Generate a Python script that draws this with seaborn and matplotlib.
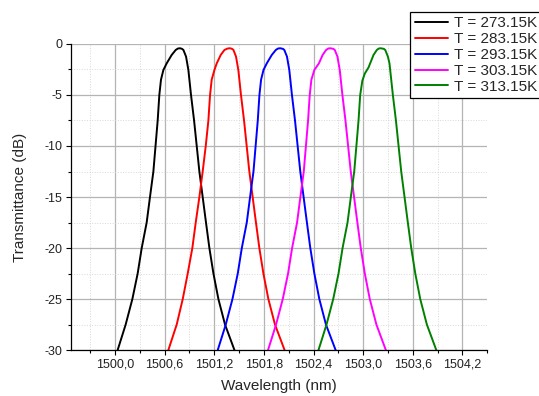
import matplotlib
matplotlib.use("Agg")
import matplotlib.pyplot as plt
from matplotlib.ticker import MultipleLocator, FuncFormatter
import numpy as np
import pandas as pd
import seaborn as sns

# transmission spectra (wavelength in nm, transmittance in dB)
labels = ["T = 273.15K", "T = 283.15K", "T = 293.15K", "T = 303.15K", "T = 313.15K"]
colors = ["black", "red", "blue", "magenta", "green"]

db_profile = [-30, -27.5, -25, -22.5, -20, -17.5, -15, -12.5, -10, -7.5, -5, -3.5, -2.55, -1.9,
              -1.08, -0.59, -0.45, -0.42, -0.48, -0.59, -1.24, -2.55, -5, -7.5, -10, -12.5,
              -15, -17.5, -20, -22.5, -25, -27.5, -30]

wl_273 = [1500.032, 1500.129, 1500.210, 1500.274, 1500.323, 1500.383, 1500.423, 1500.464,
          1500.490, 1500.516, 1500.536, 1500.556, 1500.585, 1500.625, 1500.685, 1500.734,
          1500.760, 1500.786, 1500.810, 1500.827, 1500.859, 1500.887, 1500.919, 1500.956,
          1500.988, 1501.020, 1501.060, 1501.100, 1501.141, 1501.190, 1501.250, 1501.330,
          1501.444]
db_273 = db_profile

wl_283 = [1500.645, 1500.746, 1500.819, 1500.879, 1500.935, 1500.976, 1501.020, 1501.060,
          1501.097, 1501.129, 1501.149, 1501.169, 1501.202, 1501.230, 1501.278, 1501.323,
          1501.360, 1501.390, 1501.415, 1501.432, 1501.463, 1501.491, 1501.523, 1501.560,
          1501.592, 1501.624, 1501.664, 1501.704, 1501.745, 1501.794, 1501.854, 1501.934,
          1502.050]
db_283 = db_profile

wl_293 = [1501.242, 1501.339, 1501.420, 1501.484, 1501.533, 1501.593, 1501.633, 1501.674,
          1501.700, 1501.726, 1501.746, 1501.766, 1501.795, 1501.835, 1501.895, 1501.944,
          1501.970, 1501.996, 1502.030, 1502.047, 1502.079, 1502.107, 1502.139, 1502.176,
          1502.208, 1502.240, 1502.280, 1502.320, 1502.361, 1502.410, 1502.470, 1502.550,
          1502.667]
db_293 = db_profile

wl_303 = [1501.850, 1501.947, 1502.028, 1502.092, 1502.141, 1502.201, 1502.241, 1502.282,
          1502.308, 1502.334, 1502.354, 1502.374, 1502.410, 1502.465, 1502.510, 1502.552,
          1502.578, 1502.600, 1502.640, 1502.657, 1502.689, 1502.717, 1502.749, 1502.786,
          1502.818, 1502.850, 1502.890, 1502.930, 1502.971, 1503.020, 1503.080, 1503.160,
          1503.274]
db_303 = db_profile

wl_313 = [1502.460, 1502.557, 1502.638, 1502.702, 1502.751, 1502.811, 1502.851, 1502.892,
          1502.918, 1502.944, 1502.964, 1502.990, 1503.020, 1503.065, 1503.125, 1503.165,
          1503.188, 1503.210, 1503.250, 1503.267, 1503.299, 1503.318, 1503.359, 1503.396,
          1503.428, 1503.460, 1503.500, 1503.540, 1503.581, 1503.630, 1503.690, 1503.770,
          1503.884]
db_313 = [-30, -27.5, -25, -22.5, -20, -17.5, -15, -12.5, -10, -7.5, -5, -3.6, -2.9, -2.3,
          -1.08, -0.59, -0.45, -0.42, -0.48, -0.59, -1.24, -1.9, -5, -7.5, -10, -12.5,
          -15, -17.5, -20, -22.5, -25, -27.5, -30]

series_wl = [wl_273, wl_283, wl_293, wl_303, wl_313]
series_db = [db_273, db_283, db_293, db_303, db_313]

rows = []
for lab, wl, db in zip(labels, series_wl, series_db):
    for w, d in zip(wl, db):
        rows.append((lab, w, d))
df = pd.DataFrame(rows, columns=["serie", "wl", "db"])

sns.set_theme(style="ticks")
plt.rcParams["font.family"] = ["Liberation Sans", "DejaVu Sans"]
plt.rcParams["axes.unicode_minus"] = False

fig = plt.figure(figsize=(5.39, 3.96), dpi=100)
ax = fig.add_axes([0.132, 0.116, 0.772, 0.773])

sns.lineplot(data=df, x="wl", y="db", hue="serie", palette=colors, hue_order=labels,
             estimator=None, sort=False, lw=1.4, ax=ax)

ax.set_xlim(1499.47, 1504.5)
ax.set_ylim(-30, 0)

ax.xaxis.set_major_locator(MultipleLocator(0.6))
ax.xaxis.set_minor_locator(MultipleLocator(0.3))
ax.yaxis.set_major_locator(MultipleLocator(5))
ax.yaxis.set_minor_locator(MultipleLocator(2.5))
ax.xaxis.set_major_formatter(FuncFormatter(lambda v, p: f"{v:.1f}".replace(".", ",")))
ax.yaxis.set_major_formatter(FuncFormatter(lambda v, p: f"{v:.0f}"))

ax.grid(True, which="major", color="#b4b4b4", lw=0.9, ls="-")
ax.grid(True, which="minor", color="#d8d8d8", lw=0.7, ls=":")
ax.set_axisbelow(True)

for s in ["top", "right"]:
    ax.spines[s].set_visible(False)
for s in ["left", "bottom"]:
    ax.spines[s].set_color("black")
    ax.spines[s].set_linewidth(0.9)

ax.tick_params(axis="both", which="major", direction="out", length=3.6, width=0.8,
               labelsize=9, pad=2.5, color="black", labelcolor="#222222")
ax.tick_params(axis="both", which="minor", direction="out", length=2.2, width=0.8, color="black")

ax.set_xlabel("Wavelength (nm)", fontsize=11, labelpad=6)
ax.set_ylabel("Transmittance (dB)", fontsize=11, labelpad=13)

handles, _ = ax.get_legend_handles_labels()
ax.legend(handles, labels, loc="upper left", bbox_to_anchor=(0.761, 0.970),
          bbox_transform=fig.transFigure, fontsize=11, frameon=True, fancybox=False,
          edgecolor="black", framealpha=1, borderpad=0.3, labelspacing=0.12,
          handlelength=2.2, handletextpad=0.35, borderaxespad=0)
ax.get_legend().get_frame().set_linewidth(0.9)

fig.savefig("out.png", dpi=100)
